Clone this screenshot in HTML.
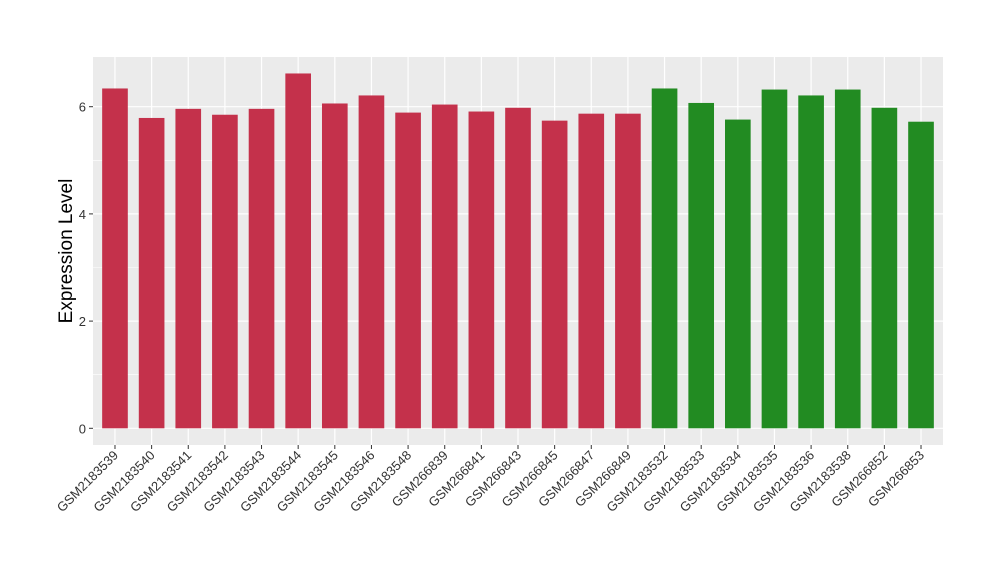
<!DOCTYPE html>
<html><head><meta charset="utf-8"><style>
body{margin:0;background:#fff;font-family:"Liberation Sans",Arial,sans-serif}
svg text{font-family:"Liberation Sans",Arial,sans-serif}
</style></head><body>
<svg id="chart" width="1000" height="580">
<rect x="93" y="57" width="850" height="388" fill="#ebebeb"/>
<g id="grid"></g><g id="bars"></g><g id="axes"></g>
<text transform="translate(72,251) rotate(-90)" text-anchor="middle" font-size="19" fill="#000">Expression Level</text>
</svg>
<script>
const categories=["GSM2183539","GSM2183540","GSM2183541","GSM2183542","GSM2183543","GSM2183544","GSM2183545","GSM2183546","GSM2183548","GSM266839","GSM266841","GSM266843","GSM266845","GSM266847","GSM266849","GSM2183532","GSM2183533","GSM2183534","GSM2183535","GSM2183536","GSM2183538","GSM266852","GSM266853"];
const values=[6.34,5.79,5.96,5.85,5.96,6.62,6.06,6.21,5.89,6.04,5.91,5.98,5.74,5.87,5.87,6.34,6.07,5.76,6.32,6.21,6.32,5.98,5.72];
const groups=[0,0,0,0,0,0,0,0,0,0,0,0,0,0,0,1,1,1,1,1,1,1,1];
const yTicks=[0,2,4,6];
const colors=["#c4314b","#228b22"];
const NS="http://www.w3.org/2000/svg";
const L=93,R=943,T=57,B=445;
const step=(R-L)/(categories.length-1+1.2);
const xs=i=>L+(0.6+i)*step;
const y=v=>428.3-v*53.6;
function mk(tag,attrs,parent){const e=document.createElementNS(NS,tag);for(const k in attrs)e.setAttribute(k,attrs[k]);parent.appendChild(e);return e;}
const grid=document.getElementById('grid'),bars=document.getElementById('bars'),axes=document.getElementById('axes');
for(let i=0;i<yTicks.length-1;i++){const m=(yTicks[i]+yTicks[i+1])/2;
const g=mk('line',{x1:L,x2:R,y1:y(m),y2:y(m),stroke:'#fff','stroke-width':0.6},grid);

}
yTicks.forEach(t=>{
const g=mk('line',{x1:L,x2:R,y1:y(t),y2:y(t),stroke:'#fff','stroke-width':1.2},grid);


const tk=mk('line',{x1:L-4,x2:L,y1:y(t),y2:y(t),stroke:'#333','stroke-width':1},axes);


const tx=mk('text',{x:L-7,y:y(t)+5,'text-anchor':'end','font-size':13,fill:'#333'},axes);
tx.textContent=t;


});
categories.forEach((c,i)=>{
const cx=xs(i);
const g=mk('line',{x1:cx,x2:cx,y1:T,y2:B,stroke:'#fff','stroke-width':1.2},grid);


const bw=step*0.7;
const b=mk('rect',{x:cx-bw/2,y:y(values[i]),width:bw,height:y(0)-y(values[i]),fill:colors[groups[i]]},bars);


const tk=mk('line',{x1:cx,x2:cx,y1:B,y2:B+4,stroke:'#333','stroke-width':1},axes);


const tx=mk('text',{transform:`translate(${cx+4},${B+11}) rotate(-45)`,'text-anchor':'end','font-size':13,fill:'#333'},axes);
tx.textContent=c;


});
</script>
</body></html>
